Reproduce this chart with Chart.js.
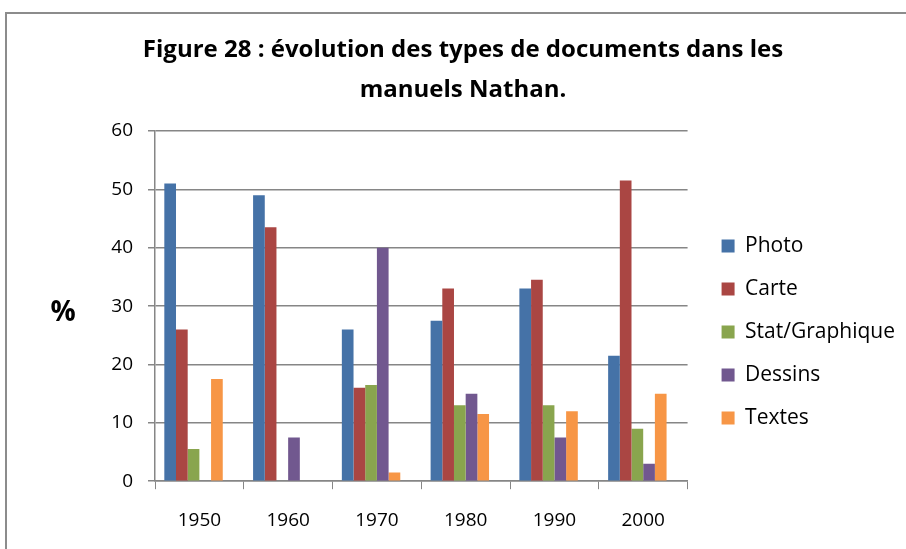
<!DOCTYPE html>
<html>
<head>
<meta charset="utf-8">
<script src="https://cdn.jsdelivr.net/npm/chart.js@4.4.1/dist/chart.umd.min.js"></script>
<style>
    html, body { margin: 0; padding: 0; background: #fff; overflow: hidden; }
    body { width: 906px; height: 549px; position: relative; }
    #frame {
        position: absolute; left: 5px; top: 12px;
        width: 913px; height: 540px;
        border-left: 2px solid #8c8c8c; border-top: 2px solid #8c8c8c;
    }
    #box { position: absolute; left: 0; top: 0; width: 913px; height: 535px; }
</style>
</head>
<body>
<div id="frame"><div id="box"><canvas id="chart"></canvas></div></div>
<script>
const years = ['1950', '1960', '1970', '1980', '1990', '2000'];
const photo = [51, 49, 26, 27.5, 33, 21.5];
const carte = [26, 43.5, 16, 33, 34.5, 51.5];
const statGraph = [5.5, 0, 16.5, 13, 13, 9];
const dessins = [0, 7.5, 40, 15, 7.5, 3];
const textes = [17.5, 0, 1.5, 11.5, 12, 15];

const fontName = "'Open Sans', sans-serif";

// "%" en face de l'axe, horizontal comme dans Excel
const percentLabel = {
    id: 'percentLabel',
    afterDraw(chart) {
        const { ctx, chartArea } = chart;
        ctx.save();
        ctx.font = "bold 28px " + fontName;
        ctx.fillStyle = '#000';
        ctx.textAlign = 'center';
        ctx.textBaseline = 'middle';
        ctx.fillText('%', chartArea.left - 92, (chartArea.top + chartArea.bottom) / 2 + 7);
        ctx.restore();
    }
};

// légende et titre un peu décalés comme dans l'original
const boxShift = {
    id: 'boxShift',
    afterLayout(chart) {
        const lg = chart.legend;
        if (lg) {
            lg.left += 12;
            lg.right += 12;
            lg.top += 49;
            lg.bottom += 49;
        }
        const tb = chart.titleBlock;
        if (tb) {
            tb.left += 13;
            tb.right += 13;
        }
    }
};

new Chart(document.getElementById('chart'), {
    type: 'bar',
    data: {
        labels: years,
        datasets: [
            { label: 'Photo', data: photo, backgroundColor: '#4572A7' },
            { label: 'Carte', data: carte, backgroundColor: '#AA4643' },
            { label: 'Stat/Graphique', data: statGraph, backgroundColor: '#89A54E' },
            { label: 'Dessins', data: dessins, backgroundColor: '#71588F' },
            { label: 'Textes', data: textes, backgroundColor: '#F79646' },
            { label: '', data: [], backgroundColor: 'rgba(0,0,0,0)' }
        ]
    },
    options: {
        responsive: true,
        maintainAspectRatio: false,
        animation: false,
        layout: { padding: { left: 0, right: 27, top: 0, bottom: -3 } },
        datasets: { bar: { categoryPercentage: 0.79, barPercentage: 1 } },
        plugins: {
            title: {
                display: true,
                text: ['Figure 28 : évolution des types de documents dans les', 'manuels Nathan.'],
                color: '#000',
                font: { family: fontName, size: 24, weight: 'bold', lineHeight: '40px' },
                padding: { top: 16, bottom: 21 }
            },
            legend: {
                position: 'right',
                labels: {
                    color: '#000',
                    font: { family: fontName, size: 21 },
                    boxWidth: 13,
                    boxHeight: 13,
                    padding: 22,
                    filter: item => item.text !== ''
                }
            },
            tooltip: { enabled: false }
        },
        scales: {
            x: {
                grid: { display: true, drawOnChartArea: false, drawTicks: true, tickLength: 8, color: '#868686', offset: true },
                border: { display: true, color: '#868686', width: 1.5 },
                ticks: { color: '#000', font: { family: fontName, size: 19 }, padding: 20 }
            },
            y: {
                min: 0,
                max: 60,
                ticks: { stepSize: 10, color: '#000', font: { family: fontName, size: 19 }, padding: 15 },
                grid: { color: '#868686', lineWidth: 1.5, tickLength: 7 },
                border: { display: true, color: '#868686', width: 1.5 },
                afterFit(scale) { scale.width = 148; }
            }
        }
    },
    plugins: [percentLabel, boxShift]
});
</script>
</body>
</html>
